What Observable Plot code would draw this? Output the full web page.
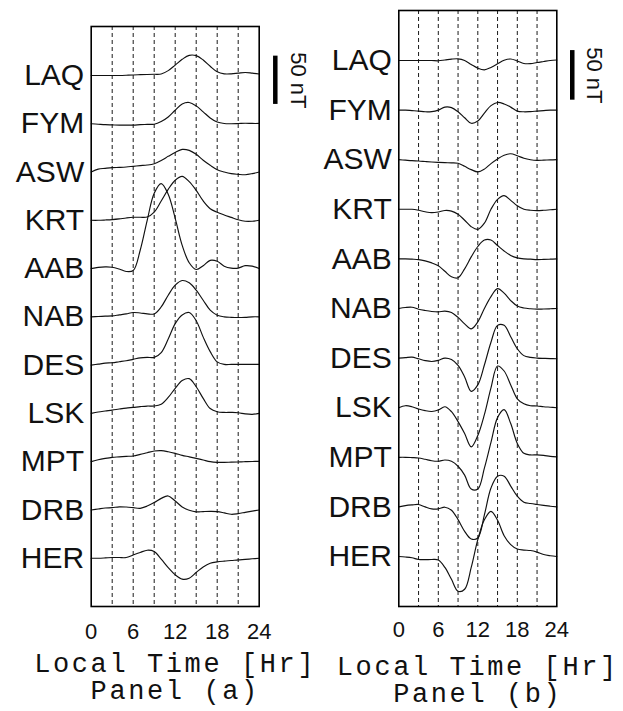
<!DOCTYPE html>
<html><head><meta charset="utf-8">
<script src="https://cdn.jsdelivr.net/npm/d3@7"></script>
<script src="https://cdn.jsdelivr.net/npm/@observablehq/plot@0.6"></script>
<style>
body{margin:0;background:#fff;}
#wrap{position:relative;width:623px;height:711px;background:#fff;}
#wrap svg{position:absolute;left:0;top:0;background:transparent;max-width:none;}
</style></head><body><div id="wrap"></div>
<script>
// Local time (hours) of each sample
const hours = [0,1,2,3,4,5,6,7,8,9,10,11,12,13,14,15,16,17,18,19,20,21,22,23,24];
const stations = ["LAQ","FYM","ASW","KRT","AAB","NAB","DES","LSK","MPT","DRB","HER"];
const xTicks = [0,6,12,18,24];
const gridHours = [3,6,9,12,15,18,21];
const stationStep = 50;   // nT between traces
const scaleBarLabel = "50 nT";
const xTitle = "Local Time [Hr]";

// Panel (a) – perturbation in nT
const laqA = [0,0,0,0,0,0.2,0.5,0.8,1,1.2,1.5,5,10.7,16.7,20.8,20.5,16,9.5,3.8,1.7,1.7,2.4,3.1,2.4,1.5];
const fymA = [0,-0.5,-1,-1.2,-1.4,-1.4,-1.4,-1,-0.7,-0.5,2.3,7,14,20.5,22,18.5,12.3,6,1.7,0.2,0,0.2,0.5,0.3,0.3];
const aswA = [0,3,3.8,4.5,4.8,5.2,5.9,6.6,7.2,8.6,12,16.2,20.3,23.4,22.4,18.3,12.1,6.9,2.4,0,-1.7,-2.4,-2.8,-1.7,0];
const krtA = [0,0,0.3,0.7,1.4,2.4,3.1,3.1,3.4,8.5,20,32,41.5,45.5,40,31,20,12,8.3,5.5,3,0.5,-1,-1,0];
const aabA = [0,1.2,1.7,1.4,-0.5,-3,-2,19,50,78,88,77,52,24,6,-1,3,8.5,7.5,2.5,0.5,0.5,3,2.5,0];
const nabA = [0,0.3,0.7,1,2,3,4.5,4,3.1,3,10.3,22.4,32.8,37.6,35.2,27.6,17.2,6.9,1.7,0,-0.5,-0.7,-0.5,0,0];
const desA = [0,1,2,2.5,3.5,4.5,6,7.5,8,8,13,27,43,52,54.5,46,29,14,3.4,0.7,0.7,0.7,0.7,0.7,0.7];
const lskA = [0,1.5,2.5,3.4,4.5,5.5,6.2,7,7.6,7.6,9.5,16.5,26,34,36,27.6,15.5,5,1.7,1,1,0.7,-0.5,-1,0];
const mptA = [0,2,3.4,4.5,5,5.5,5.9,7.5,9.3,11,11.4,10.3,8.6,6.5,5,3.4,1.7,0,-0.7,-0.7,-0.5,-0.3,0,0.2,0.3];
const drbA = [0,1,2,2.4,3.2,3,2.4,1.7,4,7.6,12,14.5,9.3,3.1,-0.3,-2,-1.7,-1.5,-1.7,-3,-4.5,-3.8,-2.5,-1.2,0];
const herA = [0,0,0.3,0.7,0.7,0.7,3.4,6,8.3,6.9,-1,-9.7,-17.2,-21.7,-20.7,-14.8,-9,-5.2,-3.8,-3,-2.4,-1.7,-1.2,-0.6,0];

// Panel (b) – perturbation in nT
const laqB = [0,0,0,0,0,0,-0.3,0.5,1.4,1.7,0,-4,-7.7,-9.4,-7,-3.4,0.3,1.5,-0.5,-3,-3.2,-2,-1,0,0.5];
const fymB = [0,0,-0.5,-1,-1.7,-1.5,0,3,2.5,-1.7,-7.7,-13.3,-11,-3,4.5,7.7,6.2,3,-1,-1.7,-1.5,-1,-0.5,0,0];
const aswB = [0,-0.5,-1,-1.3,-1.8,-2.3,-2.7,-3,-3.2,-3.6,-6.7,-10,-12.3,-9.5,-4,0.7,4.5,6,4,1.5,0,-0.7,-0.5,-0.2,0];
const krtB = [0,0,0,-1,-2.5,-3.4,-2.7,-1.2,-1.8,-5,-11,-17.5,-20.2,-14,0,10,13.8,9,3.5,0,-1,-1.3,-1,-0.5,0];
const aabB = [0,0,-0.3,-0.7,-2,-4,-7,-12.5,-18,-19,-10,2,12.5,19,19,13.5,8,3.5,1,0,-0.3,-0.7,-0.5,-0.3,0];
const nabB = [0,1,1.3,-0.7,-2,-3,-3.4,-2.7,-4,-9,-15.5,-20.5,-13.5,0,12,20,15.5,8,2.5,0.5,-0.3,-0.7,-0.5,-0.3,0];
const desB = [0,0.5,1,-0.7,-2.5,-3.4,-2.3,0,-1.5,-7.4,-19,-33.5,-27,-7,16,33,33,21.5,9.4,2.5,0.7,0,-0.3,-0.5,-0.7];
const lskB = [0,2,1,-1.3,-3,-3.8,-2.4,1,-4,-14,-26,-39.5,-28,-7,20,42,37,23,9,4,2,1.7,1,0.5,0];
const mptB = [0,0,-0.3,-0.7,-2,-3.5,-4,-2.7,-4,-9,-18,-32,-32,-11,15,40,48,34,14,4,2.4,2.5,2,1,0.5];
const drbB = [0,1.3,2,2.4,0,-2,-2,-0.3,-3.4,-12.8,-24.6,-32.3,-31.3,-8,19,31,31,21,10.8,4.7,3.4,2.4,1.5,0.7,0];
const herB = [0,-0.5,-1.3,-3,-3.2,-3,-3.5,-11,-23,-35,-33,-11,17,37,45.5,36.5,21,12,7.5,6.5,6,4.4,2,0.8,0];

const panelA = [laqA,fymA,aswA,krtA,aabA,nabA,desA,lskA,mptA,drbA,herA];
const panelB = [laqB,fymB,aswB,krtB,aabB,nabB,desB,lskB,mptB,drbB,herB];

const monoFont = "'Liberation Mono', 'Courier New', monospace";

function makePanel(cfg) {
  const rows = [];
  stations.forEach((s, i) => hours.forEach((h, j) => rows.push({s, h, v: -stationStep * i + cfg.values[i][j]})));
  const labels = stations.map((s, i) => ({s, y: -stationStep * i}));
  const yMin = cfg.yDomain[0];
  const svg = Plot.plot({
    width: 623, height: 711,
    marginLeft: cfg.marginLeft, marginRight: cfg.marginRight,
    marginTop: cfg.marginTop, marginBottom: 105,
    x: {domain: [0, 24], axis: null},
    y: {domain: cfg.yDomain, axis: null},
    style: {background: "transparent", fontFamily: "'Liberation Sans', Arial, sans-serif", overflow: "visible"},
    marks: [
      Plot.ruleX(gridHours, {stroke: "#000", strokeWidth: 0.9, strokeDasharray: "4,3"}),
      Plot.line(rows, {x: "h", y: "v", z: "s", curve: "catmull-rom", stroke: "#111", strokeWidth: 1.15}),
      Plot.frame({stroke: "#000", strokeWidth: 1.6}),
      Plot.text(labels, {x: 0, y: "y", text: "s", textAnchor: "end", dx: -7, fontSize: 30, fill: "#111"}),
      Plot.text(xTicks, {x: d => d, y: yMin, text: d => String(d), dy: cfg.tickDy, fontSize: 22, fill: "#111"}),
      Plot.ruleX([cfg.barX], {y1: cfg.bar[0], y2: cfg.bar[1], stroke: "#000", strokeWidth: 4.5}),
      Plot.text([scaleBarLabel], {x: cfg.barLabelX, y: (cfg.bar[0] + cfg.bar[1]) / 2, rotate: 90, fontSize: 22, fill: "#111"}),
      Plot.text([xTitle], {x: 12, y: yMin, dy: cfg.titleDy, fontSize: 27, fontFamily: monoFont, fill: "#111"}),
      Plot.text([cfg.panelName], {x: 12, y: yMin, dy: cfg.panelDy, fontSize: 27, fontFamily: monoFont, fill: "#111"})
    ]
  });
  // Courier-like spacing for the monospace titles
  d3.select(svg).selectAll("text")
    .filter(function() { const t = this.textContent; return t === xTitle || t === cfg.panelName; })
    .attr("letter-spacing", "2.6px");
  return svg;
}

const wrap = document.getElementById("wrap");
wrap.appendChild(makePanel({
  values: panelA, marginLeft: 90.7, marginRight: 623 - 258.7, marginTop: 26,
  yDomain: [-550, 50.7], tickDy: 25, titleDy: 57, panelDy: 84,
  barX: 26.3, barLabelX: 29.5, bar: [20, -30], panelName: "Panel (a)"
}));
wrap.appendChild(makePanel({
  values: panelB, marginLeft: 398.3, marginRight: 623 - 556.3, marginTop: 10,
  yDomain: [-550.4, 50.4], tickDy: 23, titleDy: 60, panelDy: 87,
  barX: 26.35, barLabelX: 29.6, bar: [10, -40], panelName: "Panel (b)"
}));
</script></body></html>
